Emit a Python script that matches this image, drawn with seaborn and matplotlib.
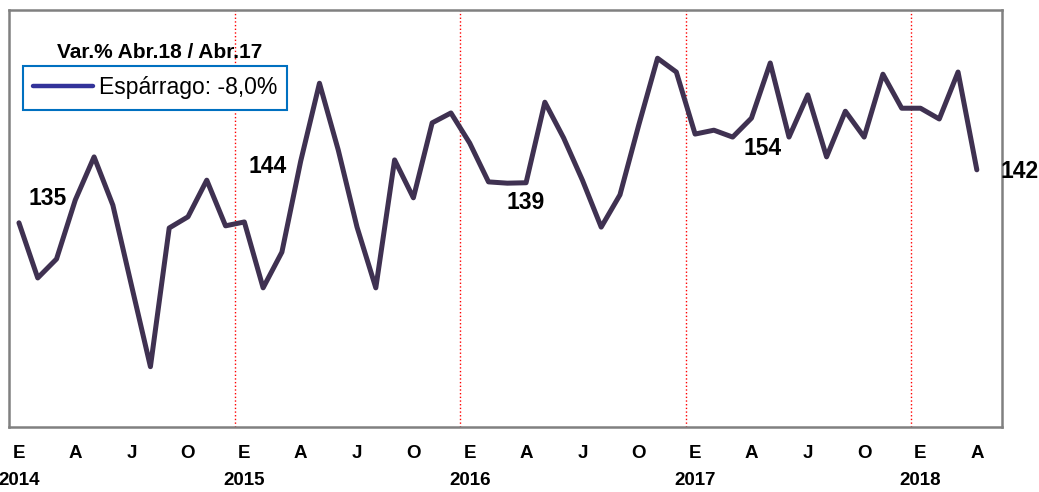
import numpy as np
import pandas as pd
import matplotlib
matplotlib.use('Agg')
import matplotlib.pyplot as plt
from matplotlib.lines import Line2D
import seaborn as sns

# monthly values Jan 2014 .. Apr 2018
v2014 = [129.7, 116.9, 121.3, 135.0, 145.0, 133.8, 115.0, 96.3, 128.5, 131.1, 139.6, 129.0]
v2015 = [129.9, 114.6, 122.9, 144.0, 162.1, 146.6, 128.7, 114.6, 144.3, 135.5, 152.9, 155.2]
v2016 = [148.2, 139.2, 138.9, 139.0, 157.7, 149.4, 139.6, 128.7, 136.2, 152.4, 167.9, 164.7]
v2017 = [150.3, 151.2, 149.6, 154.0, 166.8, 149.6, 159.4, 145.0, 155.6, 149.6, 164.2, 156.3]
v2018 = [156.3, 153.8, 164.7, 142.0]
years = [2014, 2015, 2016, 2017, 2018]
month_letters = ['E', 'A', 'J', 'O']
legend_label = 'Espárrago: -8,0%'
legend_title = 'Var.% Abr.18 / Abr.17'

values = v2014 + v2015 + v2016 + v2017 + v2018
df = pd.DataFrame({'idx': np.arange(len(values)), 'valor': values})

sns.set_style('white')
plt.rcParams['font.family'] = ['Liberation Sans', 'DejaVu Sans']
plt.rcParams['text.color'] = 'black'
plt.rcParams['xtick.color'] = 'black'

fig = plt.figure(figsize=(10.39, 4.92), dpi=100)
ax = fig.add_axes([9 / 1039, 1 - 427 / 492, 993 / 1039, 417 / 492])

line_color = '#3F3151'
sns.lineplot(data=df, x='idx', y='valor', color=line_color, linewidth=3.6, ax=ax,
             legend=False)

# year separators
for k in range(1, len(years)):
    ax.axvline(12 * k - 0.5, color='#FF0000', linestyle=':', linewidth=1.0, zorder=0)

ax.set_xlim(-0.53, 52.34)
ax.set_ylim(82.3, 179.1)
ax.set_yticks([])
ax.set_xlabel('')
ax.set_ylabel('')

# x tick labels: month letters every quarter, year under January
ticks = list(range(0, len(values), 3))
labels = []
for t in ticks:
    lab = month_letters[(t % 12) // 3]
    if t % 12 == 0:
        lab += '\n' + str(years[t // 12])
    labels.append(lab)
ax.set_xticks(ticks)
ax.set_xticklabels(labels, fontsize=13.5, fontweight='bold', linespacing=1.75,
                   va='top')
ax.tick_params(axis='x', length=0, pad=13)

for s in ax.spines.values():
    s.set_color('#808080')
    s.set_linewidth(1.8)

# April value labels
april_idx = [3, 15, 27, 39, 51]
offsets = [(-20, 1), (-24, -4), (0, -14), (8, -22), (31, -1)]
for i, off in zip(april_idx, offsets):
    ax.annotate(f'{values[i]:.0f}', (i, values[i]), xytext=off,
                textcoords='offset points', ha='center', va='center',
                fontsize=16.5, fontweight='bold')

handle = Line2D([], [], color='#33339A', linewidth=3.2, solid_capstyle='round')
leg = ax.legend([handle], [legend_label], loc='upper left',
                bbox_to_anchor=(14 / 993, 1 - 56 / 417), borderaxespad=0,
                fancybox=False, fontsize=16.5, handlelength=2.6,
                handletextpad=0.25, borderpad=0.45, framealpha=1)
leg.get_frame().set_edgecolor('#0070C0')
leg.get_frame().set_linewidth(1.5)

fig.text(160 / 1039, 1 - 52 / 492, legend_title, ha='center', va='center',
         fontsize=15, fontweight='bold')

fig.savefig('out.png', dpi=100)
